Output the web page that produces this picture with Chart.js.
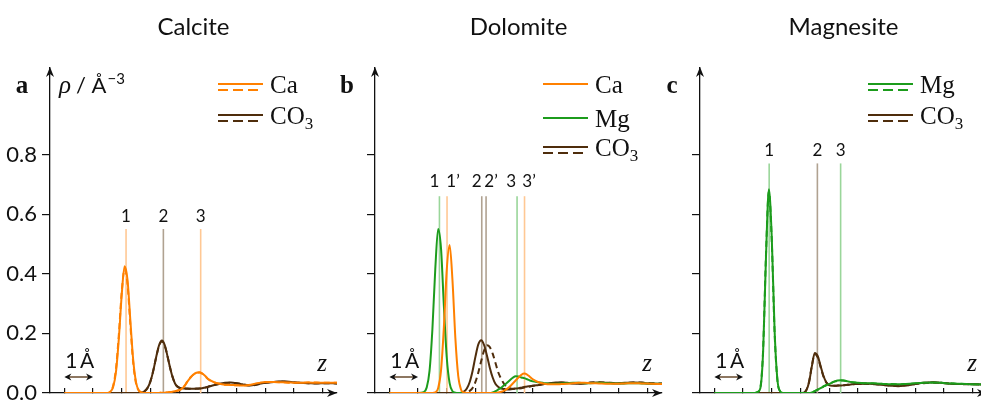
<!DOCTYPE html>
<html>
<head>
<meta charset="utf-8">
<script src="https://cdn.jsdelivr.net/npm/chart.js@4.4.1/dist/chart.umd.min.js"></script>
<style>
  html, body { margin: 0; padding: 0; background: #fff; overflow: hidden; }
  #wrap { position: relative; width: 981px; height: 400px; overflow: hidden; }
  canvas { position: absolute; top: 0; }
</style>
</head>
<body>
<div id="wrap">
  <canvas id="chart-a" width="350" height="400" style="left:0px"></canvas>
  <canvas id="chart-b" width="350" height="400" style="left:325px"></canvas>
  <canvas id="chart-c" width="350" height="400" style="left:650px"></canvas>
</div>
<script>
// z positions (Å) shared by every profile
const zGrid = [0, 0.5, 1.0, 1.2, 1.3, 1.4, 1.5, 1.6, 1.7, 1.8,
  1.9, 2.0, 2.1, 2.2, 2.3, 2.4, 2.5, 2.6, 2.7, 2.8,
  2.9, 3.0, 3.1, 3.2, 3.3, 3.4, 3.5, 3.6, 3.7, 3.8,
  3.9, 4.0, 4.1, 4.2, 4.3, 4.4, 4.5, 4.6, 4.7, 4.8,
  4.9, 5.0, 5.2, 5.4, 5.6, 5.8, 6.0, 6.2, 6.4, 6.6,
  6.8, 7.0, 7.3, 7.6, 7.9, 8.2, 8.5, 8.8, 9.1, 9.5];

const xTicks = [0, 1, 2, 3, 4, 5, 6, 7, 8, 9];
const yTicks = [0, 0.2, 0.4, 0.6, 0.8];

// Calcite
const calciteCa = [0, 0, 0, 0, 0, 0, 0, 0.004, 0.020, 0.072,
  0.184, 0.331, 0.425, 0.380, 0.243, 0.110, 0.035, 0.008, 0.002, 0,
  0, 0, 0, 0, 0, 0.001, 0.001, 0.002, 0.003, 0.005,
  0.007, 0.009, 0.015, 0.025, 0.040, 0.052, 0.062, 0.068, 0.070, 0.066,
  0.058, 0.048, 0.037, 0.031, 0.028, 0.027, 0.026, 0.025, 0.026, 0.030,
  0.034, 0.037, 0.037, 0.036, 0.035, 0.034, 0.035, 0.034, 0.034, 0.034];
const calciteCaDash = [0, 0, 0, 0, 0, 0, 0, 0.005, 0.024, 0.082,
  0.198, 0.340, 0.415, 0.365, 0.228, 0.100, 0.031, 0.007, 0.002, 0,
  0, 0, 0, 0, 0, 0.001, 0.001, 0.002, 0.003, 0.005,
  0.007, 0.010, 0.016, 0.026, 0.041, 0.053, 0.062, 0.067, 0.069, 0.065,
  0.057, 0.047, 0.036, 0.031, 0.028, 0.027, 0.026, 0.026, 0.027, 0.030,
  0.033, 0.036, 0.037, 0.036, 0.034, 0.034, 0.035, 0.035, 0.034, 0.034];
const calciteCO3 = [0, 0, 0, 0, 0, 0, 0, 0, 0, 0,
  0, 0, 0, 0, 0, 0, 0, 0, 0.002, 0.006,
  0.017, 0.039, 0.075, 0.121, 0.160, 0.176, 0.160, 0.121, 0.078, 0.045,
  0.025, 0.018, 0.016, 0.015, 0.015, 0.014, 0.014, 0.014, 0.015, 0.016,
  0.018, 0.020, 0.026, 0.031, 0.034, 0.035, 0.033, 0.029, 0.025, 0.027,
  0.031, 0.034, 0.037, 0.039, 0.037, 0.034, 0.033, 0.032, 0.033, 0.032];
const calciteCO3Dash = [0, 0, 0, 0, 0, 0, 0, 0, 0, 0,
  0, 0, 0, 0, 0, 0, 0, 0, 0.002, 0.007,
  0.018, 0.040, 0.076, 0.120, 0.158, 0.173, 0.158, 0.121, 0.079, 0.046,
  0.026, 0.018, 0.016, 0.015, 0.014, 0.014, 0.014, 0.015, 0.015, 0.016,
  0.018, 0.021, 0.026, 0.030, 0.033, 0.034, 0.033, 0.030, 0.026, 0.026,
  0.030, 0.034, 0.037, 0.038, 0.036, 0.034, 0.033, 0.033, 0.033, 0.032];
const calcitePeaks = [2.15, 3.45, 4.75];
const calcitePeakLabels = ["1", "2", "3"];
const calcitePeakTop = 0.55;

// Dolomite
const dolomiteCa = [0, 0, 0, 0, 0, 0, 0, 0.002, 0.016, 0.075,
  0.220, 0.413, 0.496, 0.377, 0.184, 0.057, 0.011, 0.002, 0, 0,
  0, 0, 0, 0, 0, 0, 0, 0, 0, 0.002,
  0.004, 0.008, 0.014, 0.022, 0.032, 0.042, 0.052, 0.061, 0.065, 0.062,
  0.054, 0.046, 0.036, 0.031, 0.029, 0.029, 0.030, 0.031, 0.033, 0.034,
  0.034, 0.033, 0.032, 0.031, 0.031, 0.032, 0.033, 0.032, 0.031, 0.030];
const dolomiteMg = [0, 0, 0, 0.003, 0.018, 0.074, 0.214, 0.415, 0.550, 0.485,
  0.292, 0.119, 0.033, 0.006, 0.001, 0, 0, 0, 0, 0,
  0, 0, 0, 0, 0, 0, 0, 0.002, 0.006, 0.012,
  0.018, 0.026, 0.034, 0.043, 0.051, 0.056, 0.055, 0.052, 0.050, 0.046,
  0.042, 0.039, 0.036, 0.033, 0.031, 0.031, 0.032, 0.033, 0.034, 0.034,
  0.033, 0.033, 0.034, 0.033, 0.032, 0.032, 0.033, 0.032, 0.031, 0.031];
const dolomiteCO3 = [0, 0, 0, 0, 0, 0, 0, 0, 0, 0,
  0, 0, 0, 0, 0, 0, 0.001, 0.005, 0.015, 0.037,
  0.074, 0.122, 0.163, 0.177, 0.161, 0.126, 0.085, 0.052, 0.030, 0.020,
  0.015, 0.013, 0.012, 0.012, 0.013, 0.015, 0.016, 0.018, 0.020, 0.022,
  0.023, 0.024, 0.027, 0.030, 0.033, 0.035, 0.035, 0.034, 0.032, 0.031,
  0.032, 0.034, 0.035, 0.034, 0.033, 0.034, 0.035, 0.034, 0.032, 0.031];
const dolomiteCO3Dash = [0, 0, 0, 0, 0, 0, 0, 0, 0, 0,
  0, 0, 0, 0, 0, 0, 0, 0, 0.002, 0.007,
  0.017, 0.037, 0.069, 0.107, 0.142, 0.160, 0.154, 0.132, 0.100, 0.068,
  0.047, 0.030, 0.021, 0.016, 0.014, 0.014, 0.015, 0.016, 0.018, 0.020,
  0.022, 0.024, 0.027, 0.030, 0.032, 0.034, 0.035, 0.034, 0.033, 0.032,
  0.033, 0.035, 0.036, 0.035, 0.033, 0.033, 0.035, 0.035, 0.033, 0.032];
const dolomitePeaks = [1.745, 2.01, 3.22, 3.37, 4.45, 4.71];
const dolomitePeakLabels = ["1", "1’", "2", "2’", "3", "3’"];
const dolomitePeakTop = 0.66;

// Magnesite
const magnesiteMg = [0, 0, 0, 0, 0, 0, 0.003, 0.015, 0.140, 0.458,
  0.683, 0.523, 0.208, 0.042, 0.005, 0, 0, 0, 0, 0,
  0, 0, 0, 0, 0, 0.002, 0.006, 0.011, 0.016, 0.021,
  0.026, 0.030, 0.035, 0.039, 0.042, 0.043, 0.042, 0.040, 0.038, 0.036,
  0.035, 0.034, 0.033, 0.033, 0.032, 0.031, 0.030, 0.029, 0.029, 0.030,
  0.031, 0.033, 0.034, 0.035, 0.034, 0.032, 0.031, 0.030, 0.029, 0.028];
const magnesiteMgDash = [0, 0, 0, 0, 0, 0, 0.003, 0.017, 0.147, 0.466,
  0.676, 0.510, 0.200, 0.040, 0.005, 0, 0, 0, 0, 0,
  0, 0, 0, 0, 0, 0.002, 0.006, 0.011, 0.017, 0.022,
  0.027, 0.031, 0.035, 0.039, 0.041, 0.042, 0.042, 0.040, 0.038, 0.036,
  0.035, 0.034, 0.033, 0.032, 0.032, 0.031, 0.030, 0.030, 0.029, 0.030,
  0.031, 0.032, 0.034, 0.035, 0.034, 0.033, 0.031, 0.030, 0.029, 0.028];
const magnesiteCO3 = [0, 0, 0, 0, 0, 0, 0, 0, 0, 0,
  0, 0, 0, 0, 0, 0, 0, 0, 0, 0,
  0, 0, 0.001, 0.008, 0.036, 0.091, 0.134, 0.124, 0.091, 0.058,
  0.036, 0.026, 0.024, 0.024, 0.025, 0.025, 0.026, 0.027, 0.028, 0.029,
  0.030, 0.030, 0.031, 0.031, 0.030, 0.028, 0.026, 0.024, 0.023, 0.024,
  0.027, 0.030, 0.034, 0.036, 0.034, 0.031, 0.030, 0.030, 0.029, 0.028];
const magnesiteCO3Dash = [0, 0, 0, 0, 0, 0, 0, 0, 0, 0,
  0, 0, 0, 0, 0, 0, 0, 0, 0, 0,
  0, 0, 0.001, 0.009, 0.038, 0.093, 0.131, 0.120, 0.088, 0.056,
  0.035, 0.026, 0.024, 0.024, 0.025, 0.026, 0.026, 0.027, 0.028, 0.029,
  0.030, 0.031, 0.031, 0.030, 0.029, 0.028, 0.026, 0.025, 0.024, 0.025,
  0.027, 0.030, 0.033, 0.035, 0.034, 0.032, 0.030, 0.029, 0.029, 0.028];
const magnesitePeaks = [1.91, 3.59, 4.40];
const magnesitePeakLabels = ["1", "2", "3"];
const magnesitePeakTop = 0.77;

const X_MIN = -0.5, X_MAX = 9.5, Y_MAX = 1.09;

// colours
const INK = "#111";
const CA = "#ff8000", MG = "#1c9c1c", CO3C = "#4f2d0c";
const CA_LINE = "#ffc894", MG_LINE = "#9ad69a", CO3_LINE = "#b0a291";

const SANS = "Lato, 'Open Sans', sans-serif";
const SERIF = "'Liberation Serif', 'DejaVu Serif', serif";

const panels = [
  {
    id: "chart-a", title: "Calcite", letter: "a", yLabels: true, rho: true,
    series: [[calciteCaDash, CA, true, 4], [calciteCO3Dash, CO3C, true, 5], [calciteCO3, CO3C, false, 2], [calciteCa, CA, false, 1]],
    peaks: calcitePeaks, peakTop: calcitePeakTop, peakLabels: calcitePeakLabels,
    peakColors: [CA_LINE, CO3_LINE, CA_LINE], labelDx: [0, 0, 0], labelY: 222,
    legend: [{ text: "Ca", color: CA, dashed: true, y: 84 }, { text: "CO", sub: "3", color: CO3C, dashed: true, y: 115 }]
  },
  {
    id: "chart-b", title: "Dolomite", letter: "b",
    series: [[dolomiteCO3Dash, CO3C, true, 5], [dolomiteCO3, CO3C, false, 3], [dolomiteMg, MG, false, 2], [dolomiteCa, CA, false, 1]],
    peaks: dolomitePeaks, peakTop: dolomitePeakTop, peakLabels: dolomitePeakLabels,
    peakColors: [MG_LINE, CA_LINE, CO3_LINE, CO3_LINE, MG_LINE, CA_LINE], labelDx: [-5, 6, -5, 5, -6, 4.5], labelY: 187,
    legend: [{ text: "Ca", color: CA, y: 84 }, { text: "Mg", color: MG, y: 118 }, { text: "CO", sub: "3", color: CO3C, dashed: true, y: 147 }]
  },
  {
    id: "chart-c", title: "Magnesite", letter: "c",
    series: [[magnesiteCO3Dash, CO3C, true, 5], [magnesiteMgDash, MG, true, 4], [magnesiteCO3, CO3C, false, 2], [magnesiteMg, MG, false, 1]],
    peaks: magnesitePeaks, peakTop: magnesitePeakTop, peakLabels: magnesitePeakLabels,
    peakColors: [MG_LINE, CO3_LINE, MG_LINE], labelDx: [0, 0, 0], labelY: 156,
    legend: [{ text: "Mg", color: MG, dashed: true, y: 84 }, { text: "CO", sub: "3", color: CO3C, dashed: true, y: 115 }]
  }
];

function arrowHead(ctx, tx, ty, dx, dy, len, half) {
  const bx = tx - dx * len, by = ty - dy * len;
  const nx = tx - dx * len * 0.7, ny = ty - dy * len * 0.7;
  ctx.beginPath();
  ctx.moveTo(tx, ty);
  ctx.lineTo(bx - dy * half, by + dx * half);
  ctx.lineTo(nx, ny);
  ctx.lineTo(bx + dy * half, by - dx * half);
  ctx.closePath();
  ctx.fill();
}

function annotations(p) {
  return {
    id: "annot",
    afterDraw(chart) {
      const { ctx, chartArea: ca, scales: { x } } = chart;
      ctx.save();
      ctx.fillStyle = INK;
      ctx.strokeStyle = INK;

      // axis arrows
      arrowHead(ctx, ca.left, ca.top - 1, 0, -1, 10, 4);
      arrowHead(ctx, ca.right, ca.bottom, 1, 0, 10, 4);

      ctx.textBaseline = "alphabetic";
      ctx.textAlign = "center";
      ctx.font = "24px " + SANS;
      ctx.fillText(p.title, (ca.left + ca.right) / 2, 35);

      ctx.font = "bold 25px " + SERIF;
      ctx.fillText(p.letter, ca.left - 28, 93);

      if (p.rho) {
        ctx.textAlign = "left";
        let cx = ca.left + 9;
        ctx.font = "italic 25px " + SERIF;
        ctx.fillText("ρ", cx, 93);
        cx += ctx.measureText("ρ").width + 5;
        ctx.font = "22px " + SANS;
        ctx.fillText("/ Å", cx, 93);
        cx += ctx.measureText("/ Å").width + 1;
        ctx.font = "15px " + SANS;
        ctx.fillText("−3", cx, 84);
      }

      // legend
      p.legend.forEach(item => {
        const x0 = ca.left + 168, x1 = ca.left + 213;
        ctx.strokeStyle = item.color;
        ctx.lineWidth = 2;
        ctx.setLineDash([]);
        ctx.beginPath(); ctx.moveTo(x0, item.y); ctx.lineTo(x1, item.y); ctx.stroke();
        if (item.dashed) {
          ctx.setLineDash([10, 5]);
          ctx.beginPath(); ctx.moveTo(x0, item.y + 6); ctx.lineTo(x1, item.y + 6); ctx.stroke();
          ctx.setLineDash([]);
        }
        ctx.textAlign = "left";
        ctx.font = "25px " + SERIF;
        ctx.fillText(item.text, ca.left + 220, item.y + 9);
        if (item.sub) {
          const w = ctx.measureText(item.text).width;
          ctx.font = "17px " + SERIF;
          ctx.fillText(item.sub, ca.left + 220 + w, item.y + 14);
        }
      });

      // peak labels
      ctx.textAlign = "center";
      ctx.font = "17px " + SANS;
      p.peaks.forEach((z, i) => {
        ctx.fillText(p.peakLabels[i], x.getPixelForValue(z) + p.labelDx[i], p.labelY);
      });

      // z label
      ctx.font = "italic 25px " + SERIF;
      ctx.fillText("z", ca.right - 15, 371);

      // 1 Å scale bar
      const s0 = x.getPixelForValue(0), s1 = x.getPixelForValue(1);
      ctx.font = "21px " + SANS;
      ctx.fillText("1\u2009Å", (s0 + s1) / 2 + 1, 368);
      ctx.lineWidth = 1.3;
      ctx.beginPath(); ctx.moveTo(s0 + 3, 377); ctx.lineTo(s1 - 3, 377); ctx.stroke();
      arrowHead(ctx, s0, 377, -1, 0, 7, 3.5);
      arrowHead(ctx, s1, 377, 1, 0, 7, 3.5);

      ctx.restore();
    }
  };
}

function buildChart(p) {
  const datasets = [];
  p.peaks.forEach((z, i) => {
    datasets.push({
      data: [{ x: z, y: 0 }, { x: z, y: p.peakTop }],
      borderColor: p.peakColors[i], borderWidth: 1.6, pointRadius: 0, order: 20
    });
  });
  p.series.forEach(([vals, color, dashed, order]) => {
    datasets.push({
      data: zGrid.map((z, i) => ({ x: z, y: vals[i] })),
      borderColor: color, borderWidth: 2, borderDash: dashed ? [6, 4] : [],
      pointRadius: 0, cubicInterpolationMode: "monotone", order
    });
  });

  new Chart(document.getElementById(p.id).getContext("2d"), {
    type: "line",
    data: { datasets },
    options: {
      responsive: false,
      animation: false,
      devicePixelRatio: 1,
      layout: { padding: { top: 68, right: 13, left: 0, bottom: 0 } },
      plugins: { legend: { display: false }, tooltip: { enabled: false } },
      scales: {
        x: {
          type: "linear", min: X_MIN, max: X_MAX,
          afterBuildTicks: s => { s.ticks = xTicks.map(v => ({ value: v })); },
          ticks: { display: false },
          grid: { drawOnChartArea: false, drawTicks: true, tickLength: -5, color: INK, lineWidth: 1.2 },
          border: { display: true, color: INK, width: 1.3 },
          afterFit: s => { s.height = 7; s.paddingLeft = 0; s.paddingRight = 0; }
        },
        y: {
          type: "linear", min: 0, max: Y_MAX,
          afterBuildTicks: s => { s.ticks = yTicks.map(v => ({ value: v })); },
          ticks: {
            display: !!p.yLabels, padding: 5, color: INK,
            font: { family: SANS, size: 22 },
            callback: v => v.toFixed(1)
          },
          grid: { drawOnChartArea: false, drawTicks: true, tickLength: 8, color: INK, lineWidth: 1.2 },
          border: { display: true, color: INK, width: 1.3 },
          afterFit: s => { s.width = 50; s.paddingTop = 0; s.paddingBottom = 0; }
        }
      }
    },
    plugins: [annotations(p)]
  });
}

panels.forEach(buildChart);
</script>
</body>
</html>
